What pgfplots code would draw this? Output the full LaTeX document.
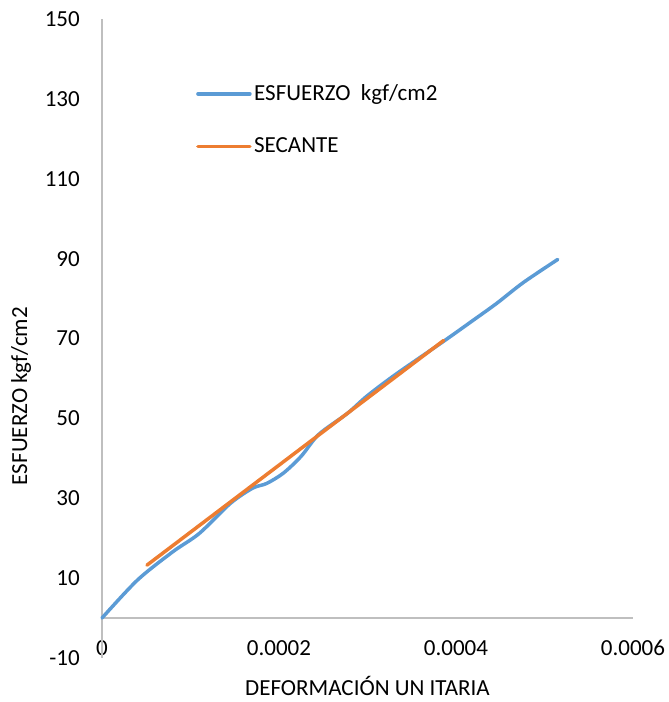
\documentclass[border=0pt]{standalone}
\usepackage{pgfplots}
\pgfplotsset{compat=1.18}
\usepackage{fontspec}
\setmainfont{Carlito}
\definecolor{serieblue}{HTML}{5B9BD5}
\definecolor{serieorange}{HTML}{ED7D31}
\definecolor{axisgray}{HTML}{BFBFBF}
\begin{document}
\fontsize{23}{27}\selectfont
\begin{tikzpicture}
\path[use as bounding box] (-102pt,-44pt) rectangle (567pt,658pt);
\begin{axis}[
  at={(0pt,0pt)}, anchor=south west,
  scale only axis, width=531pt, height=639pt,
  xmin=0, xmax=0.0006, ymin=-10, ymax=150,
  axis lines=left, axis line style={draw=none},
  major tick length=0pt,
  scaled x ticks=false, scaled y ticks=false,
  xtick={0,0.0002,0.0004,0.0006},
  xticklabels={0,0.0002,0.0004,0.0006},
  ytick={-10,10,30,50,70,90,110,130,150},
  yticklabels={-10,10,30,50,70,90,110,130,150},
  ticklabel style={font=\fontsize{23}{27}\selectfont},
  xticklabel style={anchor=base, yshift=3pt},
  yticklabel style={anchor=east, inner sep=0pt, xshift=-22pt},
  xlabel={DEFORMACIÓN UN ITARIA},
  ylabel={ESFUERZO kgf/cm2},
  label style={font=\fontsize{23}{27}\selectfont},
  xlabel style={at={(axis description cs:0.5,-0.058)}, anchor=base, inner sep=0pt},
  ylabel style={at={(axis description cs:-0.1525,0.41)}, anchor=center, rotate=0},
  legend style={draw=none, fill=none, at={(axis description cs:0.177,0.842)}, anchor=west,
    font=\fontsize{23}{27}\selectfont, row sep=29pt, column sep=0pt, inner sep=0pt,
    nodes={inner sep=2.5pt}},
  legend cell align=left,
  legend image code/.code={\draw[#1] (0pt,0pt) -- (52pt,0pt);},
  clip=false,
]
\draw[axisgray, line width=1.4pt] (axis cs:0,0) -- (axis cs:0.0006,0);
\draw[axisgray, line width=1.4pt] (axis cs:0,-10) -- (axis cs:0,150);
\addplot[serieblue, line width=3.5pt, smooth, tension=0.5, line cap=round] coordinates {
(0,0) (0.00004,9.5) (0.00008,16.6) (0.00011,21.2) (0.000145,28.7) (0.00017,32.5)
(0.000186,33.7) (0.000205,36.3) (0.000225,40.5) (0.000245,46) (0.000277,51.2)
(0.0003,55.7) (0.000333,61.2) (0.000386,69.3) (0.000419,74.5) (0.000446,78.8)
(0.000476,84) (0.000515,89.8)
};
\addlegendentry{ESFUERZO\ \ kgf/cm2}
\addplot[serieorange, line width=3.5pt, line cap=round] coordinates {
(0.0000508,13.25) (0.000386,69.5)
};
\addlegendentry{SECANTE}
\end{axis}
\end{tikzpicture}
\end{document}
